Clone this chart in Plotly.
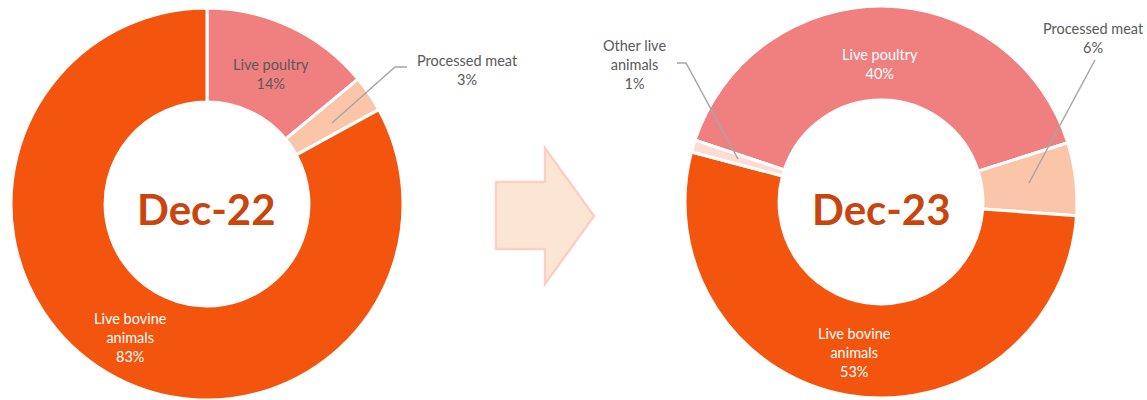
import plotly.graph_objects as go

W, H = 1147, 400

# Dec-22 breakdown
labels_22 = ["Live poultry", "Processed meat", "Live bovine animals"]
values_22 = [14, 3, 83]
# Dec-23 breakdown
labels_23 = ["Live poultry", "Processed meat", "Live bovine animals", "Other live animals"]
values_23 = [40, 6, 53, 1]
period_22 = "Dec-22"
period_23 = "Dec-23"

colors = {
    "Live poultry": "#F08080",
    "Processed meat": "#FBC5AA",
    "Live bovine animals": "#F3540E",
    "Other live animals": "#FDDCD4",
}


def fx(x):
    return x / W


def fy(y):
    return 1 - y / H


def pth(pts, close=False):
    s = "M " + " L ".join(f"{fx(x):.5f},{fy(y):.5f}" for x, y in pts)
    return s + (" Z" if close else "")


fig = go.Figure()

fig.add_trace(go.Pie(
    labels=labels_22, values=values_22, sort=False, direction="clockwise",
    rotation=0, hole=0.52, textinfo="none", hoverinfo="label+percent",
    marker=dict(colors=[colors[l] for l in labels_22], line=dict(color="white", width=3)),
    domain=dict(x=[fx(11), fx(403)], y=[fy(400), fy(8)]),
    showlegend=False,
))
fig.add_trace(go.Pie(
    labels=labels_23, values=values_23, sort=False, direction="clockwise",
    rotation=-71.6, hole=0.52, textinfo="none", hoverinfo="label+percent",
    marker=dict(colors=[colors[l] for l in labels_23], line=dict(color="white", width=3)),
    domain=dict(x=[fx(685), fx(1077)], y=[fy(398), fy(6)]),
    showlegend=False,
))

GREY = "#595959"
LEAD = "#A6A6A6"
FONT = "Lato"

annots = []


def note(text, x, y, color=GREY, size=14.5, bold=False):
    annots.append(dict(
        text=f"<b>{text}</b>" if bold else text, x=fx(x), y=fy(y), xref="paper", yref="paper",
        showarrow=False, xanchor="center", yanchor="middle", align="center",
        font=dict(family=FONT, size=size, color=color),
    ))


# Dec-22 labels
note(f"{labels_22[0]}<br>{values_22[0]}%", 271, 74)
note(f"{labels_22[1]}<br>{values_22[1]}%", 467, 70)
note("Live bovine<br>animals<br>" + f"{values_22[2]}%", 130, 337, color="white")
# Dec-23 labels
note(f"{labels_23[0]}<br>{values_23[0]}%", 880, 64, color="white")
note(f"{labels_23[1]}<br>{values_23[1]}%", 1093, 38)
note("Live bovine<br>animals<br>" + f"{values_23[2]}%", 854, 352, color="white")
note("Other live<br>animals<br>" + f"{values_23[3]}%", 634, 65)

# centre titles
note(period_22, 206, 209, color="#C8460D", size=42, bold=True)
note(period_23, 881, 209, color="#C8460D", size=42, bold=True)

shapes = [
    # arrow between the two donuts
    dict(type="path", xref="paper", yref="paper",
         path=pth([(496, 182), (545, 182), (545, 148), (594, 216), (545, 284), (545, 249), (496, 249)], close=True),
         fillcolor="#FBE6D3", line=dict(color="#FAD0C6", width=2.5), layer="below"),
    # leader lines
    dict(type="path", xref="paper", yref="paper", path=pth([(407, 67), (395, 67), (332, 123)]),
         line=dict(color=LEAD, width=1.5)),
    dict(type="path", xref="paper", yref="paper", path=pth([(1095, 60), (1029, 183)]),
         line=dict(color=LEAD, width=1.5)),
    dict(type="path", xref="paper", yref="paper", path=pth([(677, 63), (686, 63), (738, 159)]),
         line=dict(color=LEAD, width=1.5)),
]

fig.update_layout(
    width=W, height=H, margin=dict(l=0, r=0, t=0, b=0),
    paper_bgcolor="white", plot_bgcolor="white",
    annotations=annots, shapes=shapes,
    font=dict(family=FONT),
)

# drop the default 8px page margin so the figure sits at the window's corner
fig.write_html("out.html", config={"displayModeBar": False},
               post_script="document.body.style.margin='0';")
